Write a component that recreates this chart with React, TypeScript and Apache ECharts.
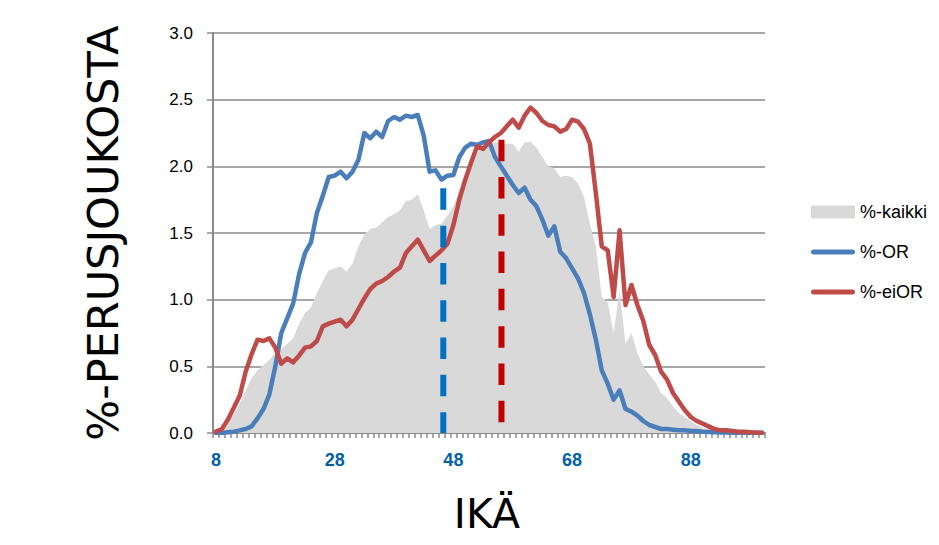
import React, { useEffect, useRef } from "react";
import * as echarts from "echarts";

const ages: string[] = [];
for (let a = 8; a <= 100; a++) ages.push(String(a));

const kaikki = [
  0.0, 0.02, 0.07, 0.14, 0.22, 0.32, 0.41, 0.47, 0.51, 0.55,
  0.60, 0.63, 0.67, 0.71, 0.82, 0.90, 0.94, 1.05, 1.14, 1.22,
  1.235, 1.25, 1.21, 1.27, 1.40, 1.49, 1.53, 1.54, 1.58, 1.62,
  1.64, 1.67, 1.74, 1.75, 1.79, 1.67, 1.53, 1.56, 1.57, 1.63,
  1.70, 1.82, 1.91, 2.01, 2.10, 2.16, 2.17, 2.18, 2.17, 2.17,
  2.17, 2.11, 2.18, 2.185, 2.14, 2.07, 2.0, 1.985, 1.92, 1.93,
  1.92, 1.87, 1.77, 1.57, 1.40, 1.02, 0.98, 0.75, 1.07, 0.67,
  0.75, 0.60, 0.50, 0.44, 0.385, 0.30, 0.26, 0.20, 0.15, 0.12,
  0.09, 0.06, 0.04, 0.03, 0.02, 0.01, 0.01, 0.005, 0.004, 0.003,
  0.002, 0.001, 0.001,
];

const orValues = [
  0.0, 0.0, 0.005, 0.01, 0.02, 0.03, 0.05, 0.11, 0.18, 0.29,
  0.50, 0.75, 0.86, 0.97, 1.19, 1.35, 1.43, 1.65, 1.78, 1.92,
  1.93, 1.96, 1.91, 1.96, 2.05, 2.25, 2.21, 2.26, 2.22, 2.34,
  2.37, 2.35, 2.38, 2.37, 2.385, 2.23, 1.96, 1.97, 1.90, 1.93,
  1.935, 2.07, 2.14, 2.17, 2.16, 2.18, 2.19, 2.07, 2.0, 1.93,
  1.86, 1.80, 1.84, 1.75, 1.70, 1.60, 1.48, 1.55, 1.36, 1.31,
  1.235, 1.16, 1.05, 0.89, 0.70, 0.47, 0.37, 0.25, 0.32, 0.18,
  0.16, 0.13, 0.09, 0.06, 0.045, 0.03, 0.03, 0.025, 0.02, 0.02,
  0.015, 0.015, 0.01, 0.008, 0.005, 0.004, 0.003, 0.002, 0.002, 0.001,
  0.001, 0.001, 0.001,
];

const eiOrValues = [
  0.01, 0.03, 0.10, 0.19, 0.28, 0.46, 0.59, 0.70, 0.69, 0.71,
  0.64, 0.52, 0.56, 0.53, 0.58, 0.64, 0.65, 0.69, 0.80, 0.82,
  0.835, 0.85, 0.80, 0.85, 0.93, 1.01, 1.08, 1.12, 1.14, 1.17,
  1.21, 1.24, 1.35, 1.40, 1.45, 1.37, 1.29, 1.33, 1.37, 1.42,
  1.56, 1.75, 1.90, 2.03, 2.15, 2.13, 2.18, 2.22, 2.25, 2.30,
  2.35, 2.29, 2.38, 2.44, 2.40, 2.34, 2.31, 2.30, 2.26, 2.28,
  2.35, 2.335, 2.28, 2.17, 1.80, 1.40, 1.37, 1.02, 1.52, 0.96,
  1.11, 0.96, 0.84, 0.66, 0.585, 0.46, 0.40, 0.30, 0.235, 0.17,
  0.12, 0.09, 0.07, 0.05, 0.03, 0.02, 0.02, 0.015, 0.01, 0.01,
  0.005, 0.003, 0.002,
];

// mean-age markers: [age, top value]
const orMean = [46.3, 1.835];
const eiOrMean = [56.1, 2.2];

const yTicks = [0, 0.5, 1.0, 1.5, 2.0, 2.5, 3.0];

const lineIcon = "path://M2.5,0 H41.5 A2.5,2.5 0 0 1 41.5,5 H2.5 A2.5,2.5 0 0 1 2.5,0 Z";

export default function App() {
  const ref = useRef<HTMLDivElement>(null);
  useEffect(() => {
    if (!ref.current) return;
    const chart = echarts.init(ref.current, null, { renderer: "svg" });
    const gridColor = "#8a8a8a";
    chart.setOption({
      animation: false,
      backgroundColor: "#ffffff",
      grid: { left: 213, top: 33, right: 174, bottom: 112, containLabel: false },
      legend: {
        orient: "vertical",
        left: 806,
        top: 197,
        itemWidth: 44,
        itemHeight: 13,
        itemGap: 20,
        textStyle: { fontSize: 18, fontFamily: "Liberation Sans", color: "#000", lineHeight: 20 },
        data: [
          { name: "%-kaikki", icon: "rect" },
          { name: "%-OR", icon: lineIcon },
          { name: "%-eiOR", icon: lineIcon },
        ],
      },
      xAxis: [
        {
          type: "category",
          data: ages,
          boundaryGap: true,
          axisLine: { show: true, lineStyle: { color: gridColor, width: 2 } },
          axisTick: { show: true, interval: 0, length: 5, lineStyle: { color: gridColor, width: 1.5 } },
          axisLabel: {
            interval: 19,
            margin: 18,
            fontSize: 18,
            fontWeight: "bold",
            fontFamily: "Liberation Sans",
            color: "#0061AA",
          },
          splitLine: { show: false },
        },
        {
          type: "value",
          min: 7.5,
          max: 100.5,
          show: false,
          splitLine: { show: false },
        },
      ],
      yAxis: {
        type: "value",
        min: yTicks[0],
        max: yTicks[yTicks.length - 1],
        interval: 0.5,
        axisLine: { show: true, lineStyle: { color: gridColor, width: 2 } },
        axisTick: { show: true, length: 6, lineStyle: { color: gridColor, width: 1.5 } },
        axisLabel: {
          margin: 20,
          fontSize: 17,
          fontFamily: "Liberation Sans",
          color: "#000",
          formatter: (v: number) => v.toFixed(1),
        },
        splitLine: { show: true, lineStyle: { color: gridColor, width: 1.5 } },
      },
      graphic: [
        {
          type: "text",
          x: 103,
          y: 233,
          rotation: Math.PI / 2,
          style: {
            text: "%-PERUSJOUKOSTA",
            fontSize: 43,
            fontFamily: "DejaVu Sans",
            fill: "#000",
            align: "center",
            verticalAlign: "middle",
          },
        },
        {
          type: "text",
          x: 487,
          y: 514,
          style: {
            text: "IKÄ",
            fontSize: 41,
            fontFamily: "DejaVu Sans",
            fill: "#000",
            align: "center",
            verticalAlign: "middle",
          },
        },
      ],
      series: [
        {
          name: "%-kaikki",
          type: "line",
          data: kaikki,
          symbol: "none",
          lineStyle: { width: 0, color: "#D9D9D9" },
          itemStyle: { color: "#D9D9D9" },
          areaStyle: { color: "#D9D9D9", opacity: 1 },
          z: 1,
        },
        {
          name: "%-OR",
          type: "line",
          data: orValues,
          symbol: "none",
          lineStyle: { width: 4.5, color: "#4A7EBB", join: "round", cap: "round" },
          itemStyle: { color: "#4A7EBB" },
          z: 3,
        },
        {
          name: "%-eiOR",
          type: "line",
          data: eiOrValues,
          symbol: "none",
          lineStyle: { width: 4.5, color: "#BE4B48", join: "round", cap: "round" },
          itemStyle: { color: "#BE4B48" },
          z: 3,
        },
        {
          name: "OR-mean",
          type: "line",
          xAxisIndex: 1,
          data: [
            [orMean[0], orMean[1]],
            [orMean[0], 0],
          ],
          symbol: "none",
          lineStyle: { width: 6, color: "#0070C0", type: [21.5, 15.8], cap: "butt" },
          z: 4,
        },
        {
          name: "eiOR-mean",
          type: "line",
          xAxisIndex: 1,
          data: [
            [eiOrMean[0], eiOrMean[1]],
            [eiOrMean[0], 0],
          ],
          symbol: "none",
          lineStyle: { width: 6, color: "#C00000", type: [21.5, 15.8], cap: "butt" },
          z: 4,
        },
      ],
    });
    return () => chart.dispose();
  }, []);
  return (
    <div
      ref={ref}
      style={{ position: "absolute", left: 0, top: 0, width: 939, height: 545 }}
    />
  );
}
